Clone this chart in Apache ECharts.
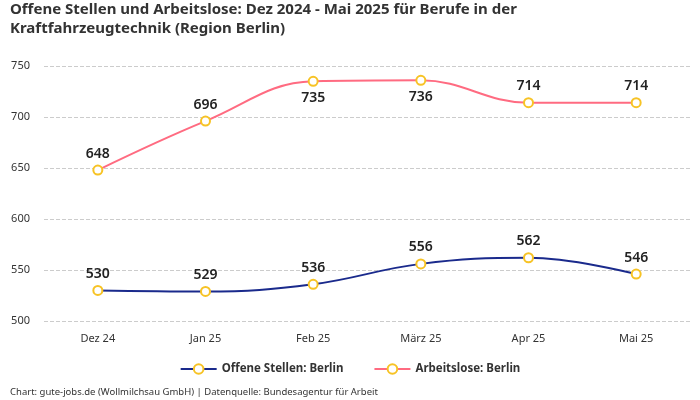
<!DOCTYPE html>
<html><head><meta charset="utf-8">
<script src="https://cdn.jsdelivr.net/npm/echarts@6/dist/echarts.min.js"></script>
<style>html,body{margin:0;padding:0;background:#fff}#c{width:700px;height:400px}</style>
</head><body><div id="c"></div>
<script>
const categories = ["Dez 24","Jan 25","Feb 25","März 25","Apr 25","Mai 25"];
const offeneStellen = [530,529,536,556,562,546];
const arbeitslose = [648,696,735,736,714,714];
const yTicks = [500,550,600,650,700,750];
const belowLabelsArbeitslose = [false,false,true,true,false,false];

const chart = echarts.init(document.getElementById('c'));
const F = '"Noto Sans", Roboto, sans-serif';
const labelStyle = {show:true, fontFamily:F, fontSize:14, fontWeight:600, color:'#222', distance:4};
chart.setOption({
  animation:false,
  title:{text:'Offene Stellen und Arbeitslose: Dez 2024 - Mai 2025 für Berufe in der\nKraftfahrzeugtechnik (Region Berlin)', left:10, top:0, padding:0,
    textStyle:{fontFamily:F, fontSize:15, fontWeight:'bold', color:'#333', lineHeight:19}},
  grid:{left:44, right:10, top:66, bottom:79},
  legend:{bottom:20, left:'center', itemGap:30, itemWidth:36, itemHeight:12,
    textStyle:{fontFamily:F, fontSize:11.5, fontWeight:'bold', color:'#333'}},
  graphic:[{type:'text', left:10, bottom:3, style:{text:'Chart: gute-jobs.de (Wollmilchsau GmbH) | Datenquelle: Bundesagentur für Arbeit', fontFamily:F, fontSize:9.5, fill:'#333'}}],
  xAxis:{type:'category', data:categories, boundaryGap:true,
    axisLine:{show:false}, axisTick:{show:false},
    axisLabel:{fontFamily:F, fontSize:11, color:'#333', margin:12}},
  yAxis:{type:'value', min:yTicks[0], max:yTicks[yTicks.length-1], interval:50,
    axisLabel:{fontFamily:F, fontSize:11, color:'#333', margin:14},
    splitLine:{lineStyle:{type:'dashed', color:'#ccc'}}},
  series:[
    {name:'Offene Stellen: Berlin', type:'line', data:offeneStellen, smooth:0.4,
      symbol:'circle', symbolSize:9,
      lineStyle:{color:'#1a2a8c', width:2},
      itemStyle:{color:'#fff', borderColor:'#f7c325', borderWidth:2},
      label:Object.assign({}, labelStyle, {position:'top'})},
    {name:'Arbeitslose: Berlin', type:'line', smooth:0.4,
      data:arbeitslose.map((v,i)=>({value:v, label:{position: belowLabelsArbeitslose[i]?'bottom':'top'}})),
      symbol:'circle', symbolSize:9,
      lineStyle:{color:'#ff6b81', width:2},
      itemStyle:{color:'#fff', borderColor:'#f7c325', borderWidth:2},
      label:Object.assign({}, labelStyle)}
  ]
});
</script></body></html>
